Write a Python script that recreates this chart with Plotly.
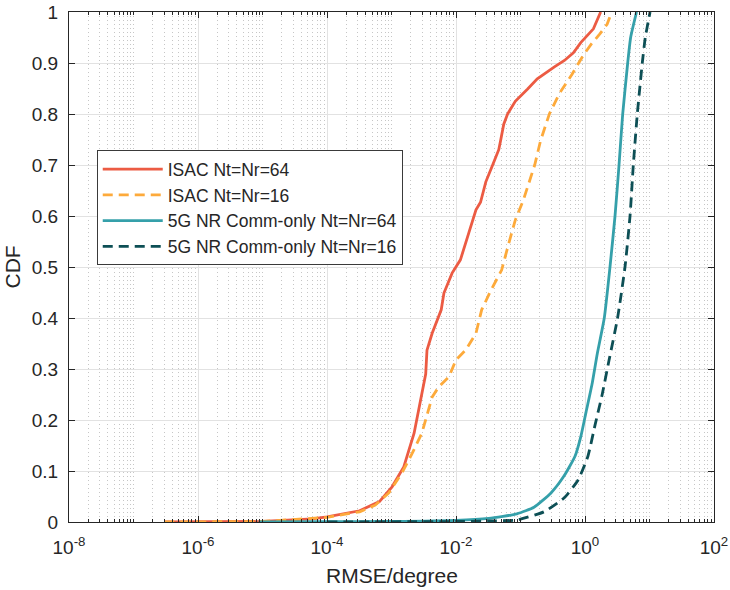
import plotly.graph_objects as go

# Empirical CDF of angle RMSE (degree) for each configuration
isac64_rmse = [3.0e-7, 1.0e-5, 5.9e-5, 1.0e-4, 3.2e-4, 6.5e-4, 1.02e-3, 1.55e-3, 2.24e-3,
               2.88e-3, 3.39e-3, 3.55e-3, 4.27e-3, 5.9e-3, 6.5e-3, 8.7e-3, 1.17e-2, 1.58e-2,
               2.04e-2, 2.4e-2, 2.9e-2, 3.7e-2, 4.6e-2, 4.9e-2, 5.5e-2, 6.3e-2, 8.3e-2,
               0.129, 0.182, 0.34, 0.48, 0.66, 0.86, 1.35, 1.75]
isac64_cdf = [0.0, 0.001, 0.006, 0.01, 0.022, 0.04, 0.069, 0.108, 0.174,
              0.24, 0.29, 0.337, 0.37, 0.416, 0.449, 0.488, 0.514, 0.567,
              0.612, 0.627, 0.667, 0.70, 0.73, 0.747, 0.78, 0.80, 0.825,
              0.849, 0.869, 0.893, 0.905, 0.92, 0.94, 0.967, 1.0]

isac16_rmse = [3.0e-7, 1.0e-5, 1.0e-4, 3.2e-4, 5.6e-4, 9.1e-4, 1.45e-3, 2.1e-3, 2.95e-3,
               3.8e-3, 4.27e-3, 5.4e-3, 7.8e-3, 1.0e-2, 1.41e-2, 2.04e-2, 2.5e-2, 3.5e-2,
               5.1e-2, 6.6e-2, 8.3e-2, 0.11, 0.166, 0.204, 0.28, 0.40, 0.63, 0.95,
               1.25, 1.7, 2.2, 2.6]
isac16_cdf = [0.0, 0.001, 0.009, 0.02, 0.033, 0.057, 0.096, 0.135, 0.174,
              0.226, 0.245, 0.265, 0.285, 0.318, 0.337, 0.37, 0.416, 0.455,
              0.494, 0.547, 0.592, 0.63, 0.70, 0.747, 0.80, 0.84, 0.878, 0.916,
              0.937, 0.957, 0.976, 1.0]

nr64_rmse = [8.7e-6, 1.0e-4, 1.0e-3, 1.0e-2, 3.2e-2, 0.088, 0.162, 0.297, 0.472, 0.70,
             0.867, 1.04, 1.28, 1.55, 1.99, 2.44, 2.92, 3.37, 3.84, 4.59, 5.1, 6.3]
nr64_cdf = [0.0, 0.0005, 0.001, 0.003, 0.007, 0.016, 0.029, 0.057, 0.09, 0.129,
            0.169, 0.216, 0.269, 0.33, 0.4, 0.5, 0.6, 0.7, 0.8, 0.9, 0.95, 1.0]

nr16_rmse = [1.0e-4, 1.0e-2, 3.2e-2, 0.088, 0.231, 0.472, 0.778, 1.11, 1.43, 1.84, 2.35,
             3.2, 4.17, 4.99, 5.61, 6.47, 7.73, 8.6, 10.2]
nr16_cdf = [0.0, 0.001, 0.002, 0.004, 0.02, 0.047, 0.082, 0.129, 0.19, 0.249, 0.316,
            0.4, 0.5, 0.6, 0.7, 0.8, 0.9, 0.95, 1.0]

x_major_vals = [1e-8, 1e-6, 1e-4, 1e-2, 1e0, 1e2]
x_major_text = ["10<sup>-8</sup>", "10<sup>-6</sup>", "10<sup>-4</sup>",
                "10<sup>-2</sup>", "10<sup>0</sup>", "10<sup>2</sup>"]
y_vals = [0, 0.1, 0.2, 0.3, 0.4, 0.5, 0.6, 0.7, 0.8, 0.9, 1]
y_text = ["0", "0.1", "0.2", "0.3", "0.4", "0.5", "0.6", "0.7", "0.8", "0.9", "1"]

# Minor ticks: every m*10^k that is not a labelled major tick
x_minor_vals = [m * 10.0 ** k for k in range(-8, 2) for m in range(1, 10)
                if not (m == 1 and k % 2 == 0)]

FONT = "Liberation Sans, Arial, Helvetica, sans-serif"
INK = "#262626"

series = [
    ("ISAC Nt=Nr=64", isac64_rmse, isac64_cdf, "#EC5B43", "solid", "linear"),
    ("ISAC Nt=Nr=16", isac16_rmse, isac16_cdf, "#FDAA3B", "10px,6px", "linear"),
    ("5G NR Comm-only Nt=Nr=64", nr64_rmse, nr64_cdf, "#35A0AA", "solid", "spline"),
    ("5G NR Comm-only Nt=Nr=16", nr16_rmse, nr16_cdf, "#0D4F55", "10px,6px", "spline"),
]

fig = go.Figure()
for name, xs, ys, color, dash, shape in series:
    fig.add_trace(go.Scatter(
        x=xs, y=ys, mode="lines", name=name,
        line=dict(color=color, width=2.8, dash=dash, shape=shape,
                  smoothing=0.5 if shape == "spline" else None),
    ))

fig.update_layout(
    width=730, height=590,
    margin=dict(l=69, r=16, t=12, b=68, autoexpand=False),
    paper_bgcolor="white", plot_bgcolor="white",
    font=dict(family=FONT, color=INK, size=19),
    showlegend=True,
    legend=dict(
        x=0.043, y=0.729, xanchor="left", yanchor="top",
        bgcolor="white", bordercolor="#3a3a3a", borderwidth=1,
        font=dict(family=FONT, size=17.5, color=INK),
        tracegroupgap=0, itemwidth=60,
    ),
    annotations=[
        dict(text="RMSE/degree", x=0.5, y=-0.104, xref="paper", yref="paper",
             xanchor="center", yanchor="middle", showarrow=False,
             font=dict(family=FONT, size=21, color=INK)),
        dict(text="CDF", x=-0.0876, y=0.5, xref="paper", yref="paper",
             xanchor="center", yanchor="middle", showarrow=False, textangle=-90,
             font=dict(family=FONT, size=21, color=INK)),
    ],
)

fig.update_xaxes(
    type="log", range=[-8, 2], automargin=False,
    tickmode="array", tickvals=x_major_vals, ticktext=x_major_text,
    ticks="inside", ticklen=6, tickcolor=INK, tickwidth=1,
    showline=True, linecolor=INK, linewidth=1, mirror="allticks",
    showgrid=True, gridcolor="#E2E2E2", gridwidth=1,
    zeroline=False, ticklabelstandoff=8,
    tickfont=dict(family=FONT, size=19, color=INK),
    minor=dict(
        tickmode="array", tickvals=x_minor_vals,
        ticks="inside", ticklen=3, tickcolor=INK, tickwidth=1,
        showgrid=True, gridcolor="#C6C6C6", griddash="1px,3px", gridwidth=1,
    ),
)

fig.update_yaxes(
    range=[0, 1], automargin=False,
    tickmode="array", tickvals=y_vals, ticktext=y_text,
    ticks="inside", ticklen=6, tickcolor=INK, tickwidth=1,
    showline=True, linecolor=INK, linewidth=1, mirror="allticks",
    showgrid=True, gridcolor="#E2E2E2", gridwidth=1,
    zeroline=False, ticklabelstandoff=6,
    tickfont=dict(family=FONT, size=19, color=INK),
)

fig.write_html("out.html")
